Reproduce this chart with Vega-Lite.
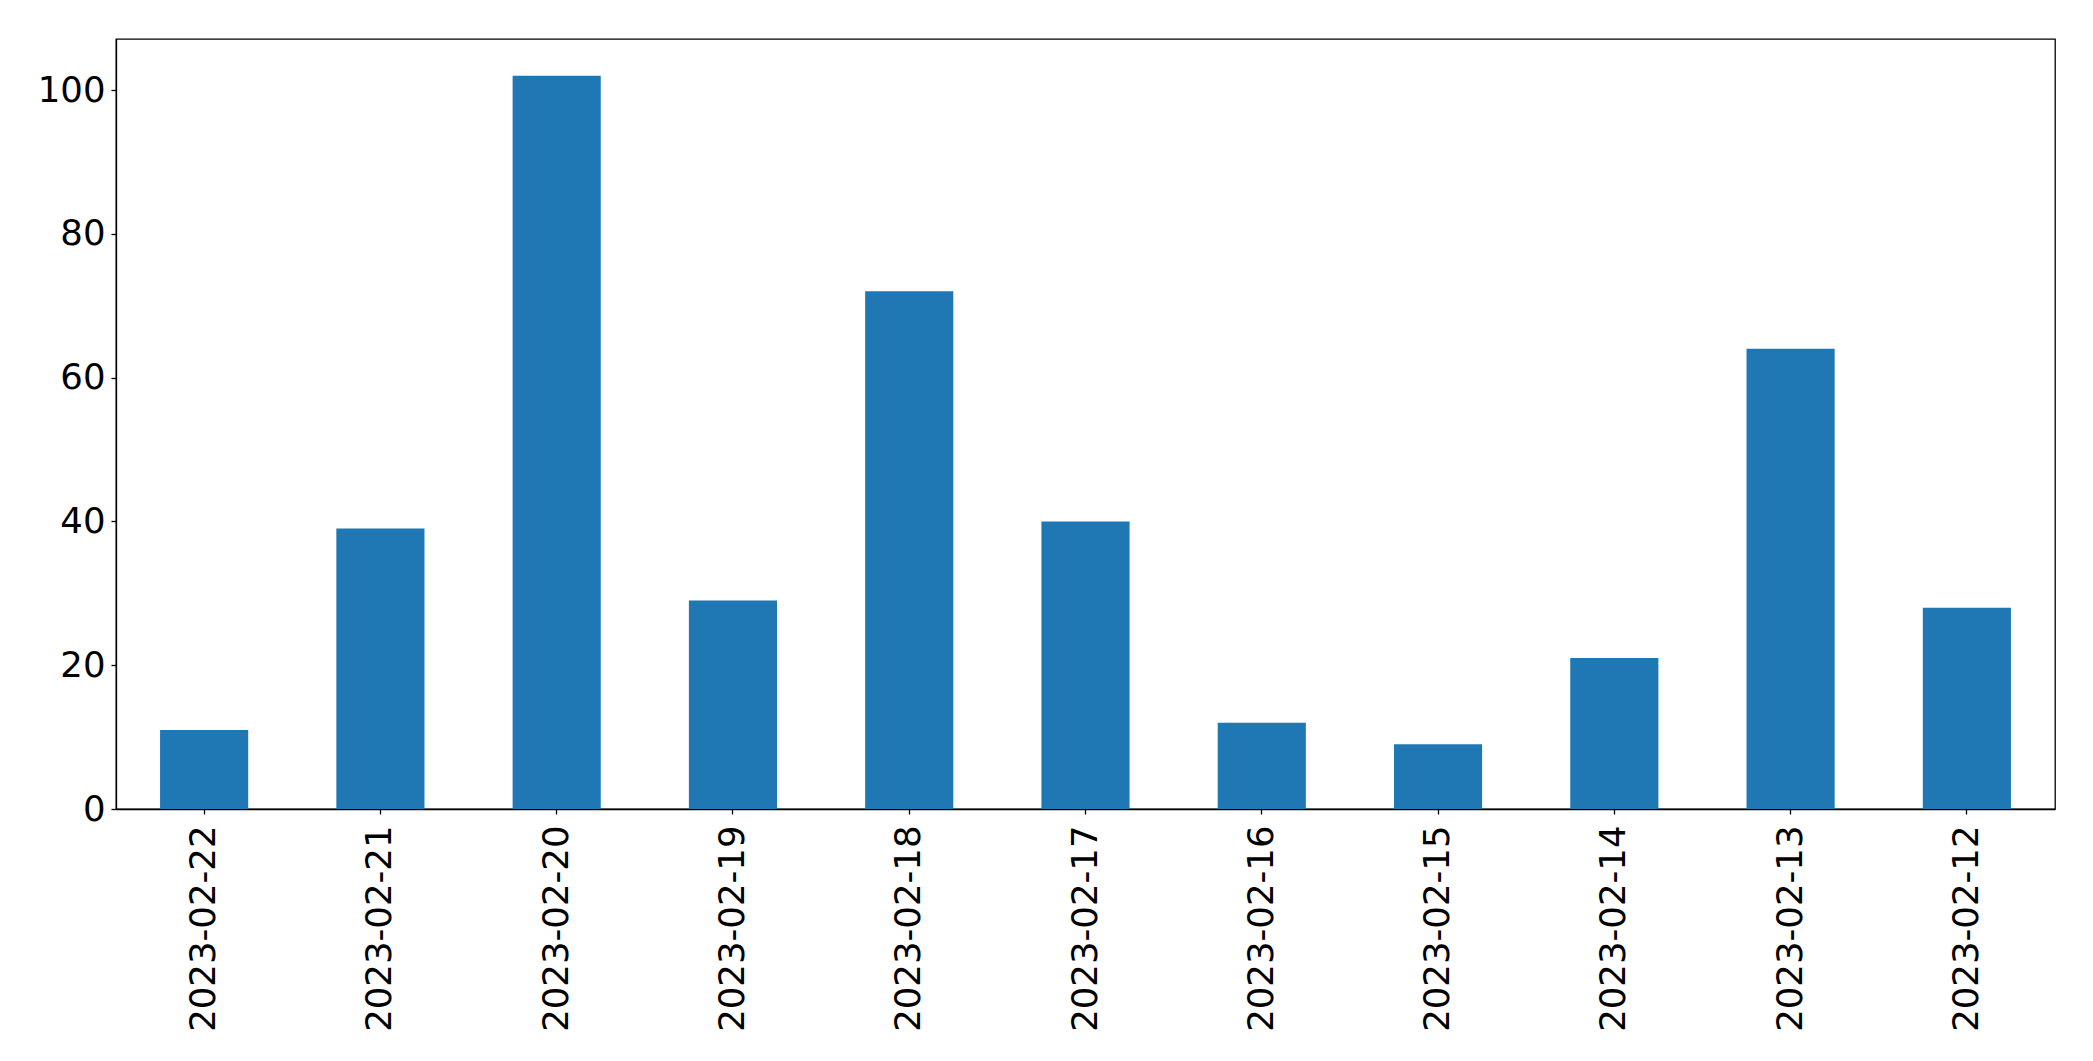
{
  "$schema": "https://vega.github.io/schema/vega-lite/v6.json",
  "width": 1939,
  "height": 770,
  "autosize": {"type": "none"},
  "padding": {"left": 116, "top": 39, "right": 38, "bottom": 252},
  "background": "white",
  "config": {
    "view": {"stroke": "black", "strokeWidth": 1.3},
    "font": "DejaVu Sans",
    "axis": {
      "labelFont": "DejaVu Sans",
      "labelFontSize": 35.5,
      "labelColor": "black",
      "labelLimit": 0,
      "labelOverlap": false,
      "domainColor": "black",
      "domainWidth": 1.3,
      "tickColor": "black",
      "tickWidth": 1.3,
      "tickSize": 5,
      "grid": false,
      "title": null
    }
  },
  "data": {
    "values": [
      {"date": "2023-02-22", "count": 11},
      {"date": "2023-02-21", "count": 39},
      {"date": "2023-02-20", "count": 102},
      {"date": "2023-02-19", "count": 29},
      {"date": "2023-02-18", "count": 72},
      {"date": "2023-02-17", "count": 40},
      {"date": "2023-02-16", "count": 12},
      {"date": "2023-02-15", "count": 9},
      {"date": "2023-02-14", "count": 21},
      {"date": "2023-02-13", "count": 64},
      {"date": "2023-02-12", "count": 28}
    ]
  },
  "mark": {"type": "bar", "color": "#1f77b4"},
  "encoding": {
    "x": {
      "field": "date",
      "type": "nominal",
      "sort": null,
      "scale": {"paddingInner": 0.5, "paddingOuter": 0.25},
      "axis": {"labelAngle": 270, "labelPadding": 11, "labelAlign": "right", "labelBaseline": "middle"}
    },
    "y": {
      "field": "count",
      "type": "quantitative",
      "scale": {"domain": [0, 107.1], "nice": false, "zero": true},
      "axis": {"values": [0, 20, 40, 60, 80, 100], "labelPadding": 6}
    }
  }
}
